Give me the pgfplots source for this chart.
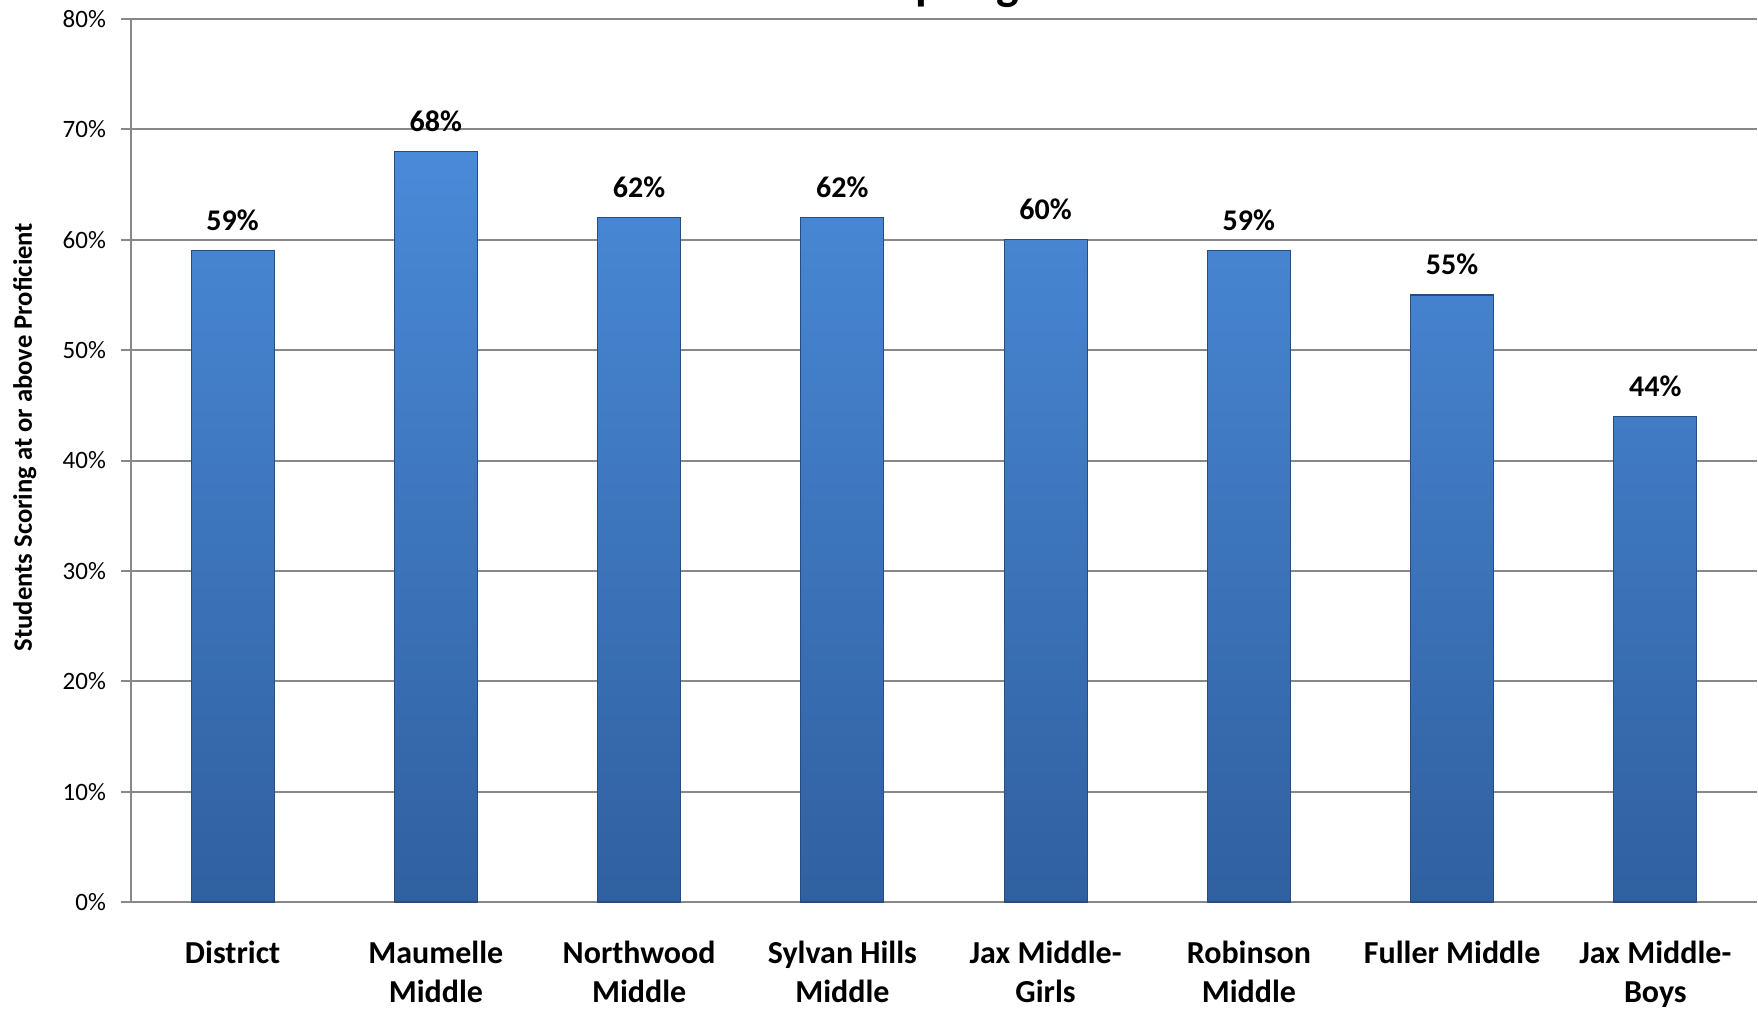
\documentclass[border=0pt]{standalone}
\usepackage{pgfplots}
\pgfplotsset{compat=1.18}
\usepackage{fontspec}
\setmainfont{Carlito}
\definecolor{gridgray}{RGB}{136,136,136}
\definecolor{bartop}{RGB}{74,138,216}
\definecolor{barbot}{RGB}{48,96,160}
\definecolor{baredge}{RGB}{38,76,130}
\begin{document}
\begin{tikzpicture}
\begin{axis}[
  scale only axis,
  width=813pt, height=441.5pt,
  xmin=-0.5, xmax=7.5,
  ymin=0, ymax=80,
  axis x line=bottom, axis y line=left,
  axis line style={gridgray, line width=1pt, -},
  ymajorgrids,
  grid style={gridgray, line width=1pt},
  ytick={0,10,...,80},
  yticklabel={\pgfmathprintnumber{\tick}\%},
  /pgf/number format/assume math mode=true,
  yticklabel style={font=\fontsize{12.5}{15}\selectfont, anchor=east, xshift=-4pt},
  xtick={0,...,7},
  xticklabels={\strut District, \strut Maumelle\\Middle, \strut Northwood\\Middle, \strut Sylvan Hills\\Middle, \strut Jax Middle-\\Girls, \strut Robinson\\Middle, \strut Fuller Middle, \strut Jax Middle-\\Boys},
  xticklabel style={font=\bfseries\fontsize{16}{19.5}\selectfont, align=center, anchor=north, inner sep=0pt, yshift=-11.8pt},
  xtick style={draw=none},
  extra x ticks={-0.5,0.5,...,7.5},
  extra x tick labels={},
  extra x tick style={grid=none, tick style={draw=gridgray, line width=1pt}},
  tick align=outside,
  major tick length=5pt,
  ytick style={draw=gridgray, line width=1pt},
  ylabel={Students Scoring at or above Proficient},
  every axis y label/.style={at={(axis description cs:-0.0653,0.5266)}, rotate=90, anchor=center, font=\bfseries\fontsize{13.3}{15}\selectfont},
  nodes near coords={\pgfmathprintnumber{\pgfplotspointmeta}\%},
  every node near coord/.append style={font=\bfseries\fontsize{15}{18}\selectfont, anchor=base, yshift=10pt},
  clip=false,
]
\addplot[ybar, bar width=41.5pt, top color=bartop, bottom color=barbot, draw=baredge, line width=0.6pt]
  coordinates {(0,59) (1,68) (2,62) (3,62) (4,60) (5,59) (6,55) (7,44)};
\node[anchor=base, font=\bfseries\fontsize{24}{28}\selectfont] at (axis cs:3.825,80) [yshift=10pt] {Spring 2009};
\end{axis}
\pgfresetboundingbox
\useasboundingbox (-65.5pt,-53pt) rectangle (813.5pt,451pt);
\end{tikzpicture}
\end{document}
